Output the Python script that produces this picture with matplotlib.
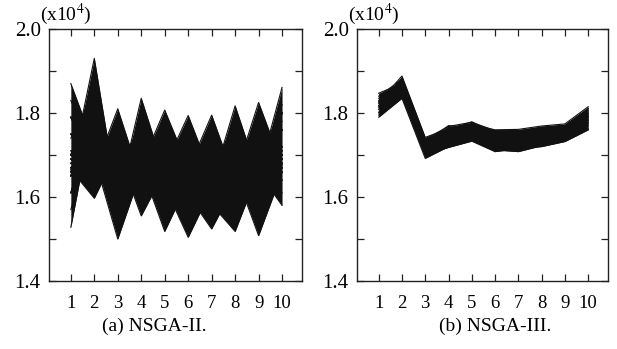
import matplotlib
matplotlib.use("Agg")
import matplotlib.pyplot as plt
import numpy as np

plt.rcParams['font.family'] = ['Liberation Serif', 'DejaVu Serif']
plt.rcParams['mathtext.fontset'] = 'stix'

objectives = [1, 2, 3, 4, 5, 6, 7, 8, 9, 10]
x_labels = ['1', '2', '3', '4', '5', '6', '7', '8', '9', '10']
y_ticks = [1.4, 1.6, 1.8, 2.0]
y_labels = ['1.4', '1.6', '1.8', '2.0']
y_minor = [1.5, 1.7, 1.9]
captions = ['(a) NSGA-II.', '(b) NSGA-III.']

# NSGA-II solutions (values in x10^4)
nsga2_lines = [
    # solutions that reach the top at one objective
    [1.87, 1.72, 1.68, 1.66, 1.70, 1.67, 1.69, 1.66, 1.71, 1.68],
    [1.83, 1.70, 1.66, 1.70, 1.67, 1.69, 1.66, 1.70, 1.68, 1.71],
    [1.79, 1.68, 1.71, 1.67, 1.69, 1.66, 1.70, 1.68, 1.66, 1.69],
    [1.66, 1.93, 1.59, 1.69, 1.67, 1.70, 1.66, 1.69, 1.70, 1.67],
    [1.70, 1.88, 1.63, 1.67, 1.70, 1.66, 1.69, 1.67, 1.68, 1.71],
    [1.74, 1.84, 1.66, 1.70, 1.68, 1.68, 1.67, 1.70, 1.66, 1.69],
    [1.69, 1.663, 1.81, 1.637, 1.70, 1.67, 1.69, 1.66, 1.70, 1.68],
    [1.67, 1.69, 1.77, 1.66, 1.68, 1.70, 1.66, 1.71, 1.67, 1.70],
    [1.71, 1.71, 1.74, 1.68, 1.66, 1.68, 1.70, 1.67, 1.69, 1.66],
    [1.68, 1.70, 1.595, 1.835, 1.66, 1.69, 1.67, 1.70, 1.66, 1.70],
    [1.70, 1.67, 1.63, 1.79, 1.68, 1.66, 1.70, 1.67, 1.69, 1.67],
    [1.66, 1.69, 1.67, 1.76, 1.70, 1.68, 1.66, 1.69, 1.71, 1.69],
    [1.70, 1.68, 1.66, 1.676, 1.807, 1.671, 1.70, 1.67, 1.68, 1.66],
    [1.67, 1.71, 1.69, 1.69, 1.77, 1.69, 1.67, 1.70, 1.66, 1.70],
    [1.69, 1.66, 1.70, 1.70, 1.75, 1.70, 1.68, 1.66, 1.70, 1.68],
    [1.67, 1.70, 1.68, 1.70, 1.673, 1.794, 1.65, 1.69, 1.67, 1.70],
    [1.70, 1.67, 1.70, 1.66, 1.69, 1.76, 1.67, 1.68, 1.70, 1.67],
    [1.68, 1.69, 1.66, 1.69, 1.70, 1.74, 1.69, 1.66, 1.68, 1.71],
    [1.69, 1.68, 1.70, 1.67, 1.69, 1.665, 1.795, 1.64, 1.68, 1.70],
    [1.66, 1.70, 1.67, 1.70, 1.67, 1.68, 1.76, 1.66, 1.70, 1.67],
    [1.71, 1.67, 1.69, 1.68, 1.70, 1.69, 1.74, 1.68, 1.66, 1.69],
    [1.68, 1.70, 1.66, 1.69, 1.67, 1.70, 1.63, 1.817, 1.65, 1.69],
    [1.70, 1.66, 1.70, 1.67, 1.69, 1.67, 1.66, 1.78, 1.67, 1.70],
    [1.67, 1.69, 1.68, 1.70, 1.66, 1.69, 1.68, 1.75, 1.69, 1.67],
    [1.70, 1.67, 1.69, 1.66, 1.70, 1.68, 1.67, 1.65, 1.825, 1.675],
    [1.67, 1.70, 1.66, 1.70, 1.68, 1.66, 1.70, 1.67, 1.79, 1.69],
    [1.69, 1.68, 1.70, 1.67, 1.66, 1.70, 1.68, 1.70, 1.76, 1.71],
    [1.67, 1.69, 1.70, 1.66, 1.69, 1.67, 1.70, 1.68, 1.653, 1.861],
    [1.70, 1.67, 1.68, 1.70, 1.66, 1.70, 1.67, 1.69, 1.68, 1.82],
    [1.68, 1.70, 1.66, 1.68, 1.70, 1.68, 1.69, 1.67, 1.70, 1.78],
    # solutions that reach the bottom at one objective
    [1.528, 1.82, 1.64, 1.69, 1.67, 1.70, 1.68, 1.66, 1.70, 1.68],
    [1.57, 1.78, 1.68, 1.67, 1.70, 1.66, 1.69, 1.70, 1.67, 1.70],
    [1.61, 1.72, 1.70, 1.70, 1.66, 1.69, 1.67, 1.68, 1.69, 1.66],
    [1.665, 1.597, 1.713, 1.67, 1.70, 1.68, 1.66, 1.70, 1.68, 1.69],
    [1.69, 1.62, 1.70, 1.69, 1.67, 1.70, 1.68, 1.67, 1.70, 1.67],
    [1.66, 1.64, 1.69, 1.70, 1.68, 1.66, 1.70, 1.69, 1.66, 1.70],
    [1.70, 1.693, 1.50, 1.662, 1.68, 1.70, 1.67, 1.69, 1.66, 1.70],
    [1.67, 1.71, 1.54, 1.69, 1.70, 1.67, 1.70, 1.66, 1.69, 1.68],
    [1.69, 1.67, 1.58, 1.70, 1.66, 1.69, 1.68, 1.70, 1.67, 1.71],
    [1.68, 1.66, 1.708, 1.555, 1.662, 1.69, 1.70, 1.67, 1.69, 1.67],
    [1.70, 1.69, 1.70, 1.59, 1.68, 1.66, 1.68, 1.70, 1.67, 1.70],
    [1.66, 1.70, 1.69, 1.62, 1.70, 1.68, 1.66, 1.68, 1.70, 1.68],
    [1.69, 1.70, 1.67, 1.673, 1.518, 1.636, 1.69, 1.68, 1.66, 1.70],
    [1.67, 1.68, 1.70, 1.69, 1.56, 1.66, 1.67, 1.70, 1.69, 1.67],
    [1.70, 1.66, 1.68, 1.70, 1.60, 1.68, 1.70, 1.66, 1.68, 1.69],
    [1.68, 1.67, 1.70, 1.69, 1.626, 1.504, 1.62, 1.70, 1.67, 1.69],
    [1.70, 1.69, 1.67, 1.66, 1.66, 1.55, 1.65, 1.68, 1.70, 1.66],
    [1.66, 1.70, 1.69, 1.70, 1.68, 1.59, 1.67, 1.66, 1.68, 1.70],
    [1.70, 1.68, 1.66, 1.70, 1.68, 1.604, 1.524, 1.63, 1.69, 1.67],
    [1.67, 1.70, 1.69, 1.67, 1.70, 1.64, 1.56, 1.66, 1.67, 1.70],
    [1.69, 1.67, 1.70, 1.68, 1.66, 1.67, 1.60, 1.68, 1.70, 1.68],
    [1.67, 1.69, 1.70, 1.66, 1.70, 1.66, 1.582, 1.518, 1.662, 1.70],
    [1.70, 1.66, 1.68, 1.70, 1.67, 1.69, 1.62, 1.56, 1.68, 1.67],
    [1.68, 1.70, 1.67, 1.69, 1.69, 1.67, 1.65, 1.60, 1.69, 1.69],
    [1.69, 1.67, 1.68, 1.70, 1.66, 1.70, 1.68, 1.66, 1.508, 1.658],
    [1.66, 1.70, 1.70, 1.67, 1.69, 1.67, 1.66, 1.68, 1.55, 1.68],
    [1.70, 1.68, 1.66, 1.69, 1.70, 1.69, 1.70, 1.69, 1.59, 1.70],
    [1.68, 1.66, 1.69, 1.68, 1.67, 1.70, 1.69, 1.67, 1.658, 1.58],
    [1.70, 1.69, 1.67, 1.70, 1.68, 1.66, 1.67, 1.70, 1.68, 1.61],
    [1.67, 1.70, 1.70, 1.66, 1.70, 1.68, 1.66, 1.69, 1.70, 1.64],
    # the zig-zagging bulk in between
    [1.79, 1.70, 1.70, 1.61, 1.66, 1.69, 1.62, 1.75, 1.59, 1.76],
    [1.65, 1.85, 1.57, 1.74, 1.62, 1.73, 1.62, 1.67, 1.71, 1.64],
    [1.70, 1.70, 1.74, 1.65, 1.70, 1.57, 1.74, 1.63, 1.67, 1.76],
    [1.61, 1.80, 1.655, 1.78, 1.58, 1.65, 1.70, 1.63, 1.75, 1.68],
    [1.75, 1.75, 1.61, 1.74, 1.58, 1.73, 1.62, 1.71, 1.63, 1.80],
    [1.65, 1.80, 1.57, 1.695, 1.74, 1.61, 1.66, 1.59, 1.71, 1.72],
    [1.79, 1.65, 1.70, 1.65, 1.66, 1.61, 1.74, 1.67, 1.59, 1.80],
    [1.70, 1.85, 1.61, 1.695, 1.70, 1.57, 1.70, 1.63, 1.75, 1.68],
    [1.75, 1.70, 1.655, 1.61, 1.74, 1.65, 1.62, 1.75, 1.63, 1.72],
    [1.61, 1.75, 1.70, 1.65, 1.66, 1.69, 1.58, 1.71, 1.67, 1.68],
    [1.65, 1.85, 1.655, 1.65, 1.74, 1.57, 1.66, 1.71, 1.63, 1.76],
    [1.75, 1.65, 1.74, 1.695, 1.62, 1.69, 1.66, 1.59, 1.75, 1.72],
    [1.70, 1.80, 1.61, 1.78, 1.62, 1.65, 1.74, 1.63, 1.67, 1.64],
    [1.79, 1.75, 1.57, 1.74, 1.66, 1.61, 1.70, 1.67, 1.63, 1.80],
    [1.65, 1.75, 1.70, 1.61, 1.70, 1.65, 1.62, 1.71, 1.59, 1.72],
    [1.75, 1.65, 1.655, 1.74, 1.58, 1.73, 1.58, 1.67, 1.71, 1.68],
    [1.70, 1.85, 1.57, 1.695, 1.70, 1.61, 1.74, 1.59, 1.67, 1.76],
    [1.61, 1.80, 1.61, 1.78, 1.66, 1.57, 1.70, 1.67, 1.63, 1.80],
    [1.79, 1.70, 1.655, 1.65, 1.74, 1.61, 1.66, 1.71, 1.59, 1.72],
    [1.65, 1.80, 1.655, 1.65, 1.66, 1.65, 1.62, 1.75, 1.63, 1.76],
]

# NSGA-III solutions (values in x10^4)
nsga3_lines = [
    [1.847, 1.870, 1.738, 1.768, 1.778, 1.758, 1.757, 1.766, 1.770, 1.810],
    [1.825, 1.888, 1.742, 1.762, 1.772, 1.760, 1.761, 1.769, 1.774, 1.815],
    [1.790, 1.835, 1.692, 1.720, 1.735, 1.712, 1.708, 1.722, 1.735, 1.762],
    [1.800, 1.840, 1.700, 1.718, 1.733, 1.708, 1.715, 1.720, 1.732, 1.760],
    [1.835, 1.875, 1.730, 1.770, 1.765, 1.745, 1.740, 1.752, 1.760, 1.800],
    [1.815, 1.860, 1.720, 1.745, 1.760, 1.735, 1.738, 1.745, 1.755, 1.790],
    [1.808, 1.852, 1.712, 1.738, 1.752, 1.728, 1.730, 1.740, 1.750, 1.782],
    [1.822, 1.865, 1.725, 1.752, 1.758, 1.742, 1.745, 1.755, 1.762, 1.795],
    [1.840, 1.880, 1.735, 1.760, 1.779, 1.752, 1.750, 1.760, 1.768, 1.805],
    [1.795, 1.845, 1.705, 1.728, 1.742, 1.720, 1.722, 1.730, 1.740, 1.770],
    [1.830, 1.858, 1.728, 1.748, 1.768, 1.748, 1.735, 1.762, 1.758, 1.792],
    [1.812, 1.870, 1.715, 1.742, 1.748, 1.730, 1.742, 1.735, 1.748, 1.778],
    [1.802, 1.848, 1.708, 1.732, 1.745, 1.716, 1.718, 1.728, 1.745, 1.775],
    [1.828, 1.872, 1.732, 1.755, 1.770, 1.740, 1.752, 1.748, 1.765, 1.798],
    [1.818, 1.855, 1.722, 1.735, 1.755, 1.738, 1.728, 1.742, 1.752, 1.785],
]


def draw_panel(ax, lines):
    # the bundle is so dense it prints solid: shade the area the lines sweep
    xs = np.linspace(objectives[0], objectives[-1], 901)
    sweep = np.array([np.interp(xs, objectives, vals) for vals in lines])
    ax.fill_between(xs, sweep.min(axis=0), sweep.max(axis=0),
                    color='#111111', linewidth=0)
    for vals in lines:
        ax.plot(objectives, vals, color='#111111', linewidth=0.8)
    ax.set_xlim(0.07, 10.85)
    ax.set_ylim(1.4, 2.0)
    ax.set_xticks(objectives)
    ax.set_xticklabels(x_labels)
    ax.set_yticks(y_ticks)
    ax.set_yticklabels(y_labels)
    ax.set_yticks(y_minor, minor=True)
    ax.tick_params(axis='both', which='both', direction='in',
                   top=True, right=True, width=0.9, color='#222222')
    ax.tick_params(axis='y', which='major', length=5, labelsize=15, pad=6)
    ax.tick_params(axis='y', which='minor', length=5)
    ax.tick_params(axis='x', which='major', length=5, labelsize=13.5, pad=10)
    for sp in ax.spines.values():
        sp.set_linewidth(1.0)
        sp.set_color('#222222')
    ax.text(-0.036, 1.035, r'(x10$^4$)', transform=ax.transAxes,
            fontsize=14, ha='left', va='baseline')


fig = plt.figure(figsize=(6.17, 3.49), dpi=100)
ax1 = fig.add_axes([49 / 617, 68 / 349, 253 / 617, 252 / 349])
ax2 = fig.add_axes([357 / 617, 68 / 349, 251 / 617, 252 / 349])

draw_panel(ax1, nsga2_lines)
draw_panel(ax2, nsga3_lines)

fig.text(154 / 617, 18 / 349, captions[0], ha='center', va='baseline', fontsize=14)
fig.text(495 / 617, 18 / 349, captions[1], ha='center', va='baseline', fontsize=14)

fig.savefig('out.png', dpi=100)
